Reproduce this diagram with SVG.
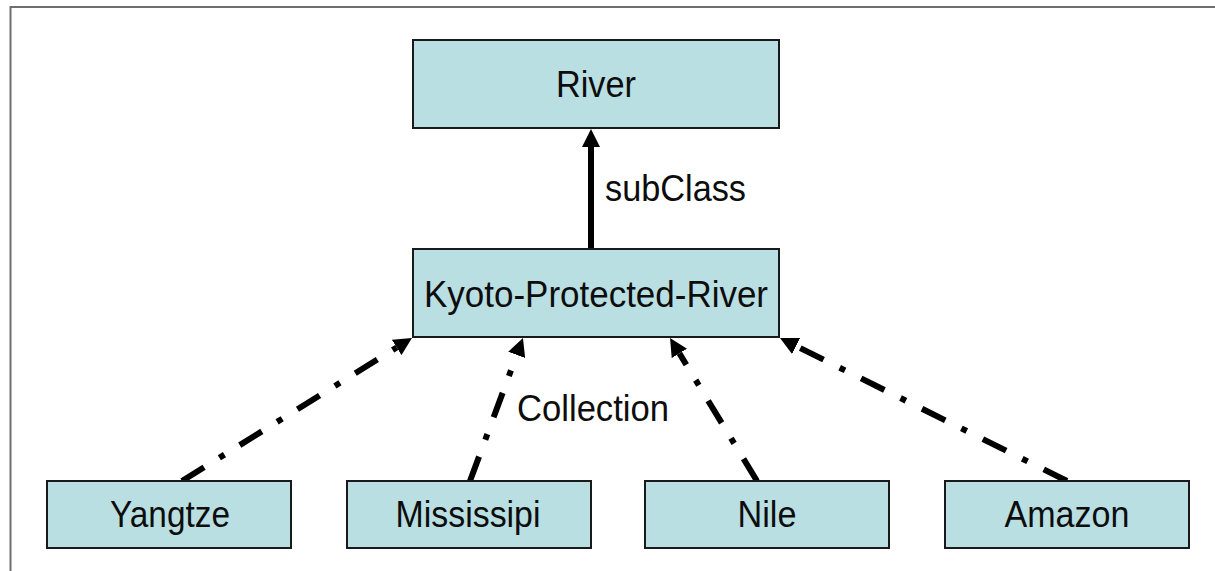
<svg xmlns="http://www.w3.org/2000/svg" width="1215" height="571" viewBox="0 0 1215 571">
<style>
.box{fill:#b9dfe3;stroke:#1a1a1a;stroke-width:2}
.lbl{font-family:"Liberation Sans",Arial,sans-serif;font-size:36px;fill:#0d0d0d;text-anchor:middle}
.elbl{font-family:"Liberation Sans",Arial,sans-serif;font-size:36px;fill:#0d0d0d}
.solid{stroke:#000;stroke-width:6;fill:none}
.dd{stroke:#000;stroke-width:6;fill:none;stroke-dasharray:26 18 6 18}
.frame{stroke:#6e6e6e;stroke-width:2;fill:none}
</style>
<defs>
<marker id="ah" viewBox="0 0 18 18" markerWidth="18" markerHeight="18" markerUnits="userSpaceOnUse" refX="0" refY="9" orient="auto">
<path d="M0,0 L18,9 L0,18 z" fill="#000"/>
</marker>
</defs>
<rect width="1215" height="571" fill="#fff"/>
<path class="frame" d="M10.5,571 L10.5,7 L1215,7"/>
<g id="connectors">
<line class="solid" x1="591" y1="249" x2="591" y2="147" marker-end="url(#ah)"/>
<line class="dd" x1="182" y1="481" x2="396.7" y2="347.5" marker-end="url(#ah)"/>
<line class="dd" x1="470" y1="481" x2="516.7" y2="354.9" marker-end="url(#ah)"/>
<line class="dd" x1="757" y1="481" x2="679.4" y2="353.4" marker-end="url(#ah)"/>
<line class="dd" x1="1067" y1="481" x2="796.1" y2="346" marker-end="url(#ah)"/>
<text class="elbl" x="605" y="201" textLength="141" lengthAdjust="spacingAndGlyphs">subClass</text>
<text class="elbl" x="517" y="421" textLength="152" lengthAdjust="spacingAndGlyphs">Collection</text>
</g>
<g id="river"><rect class="box" x="413" y="40" width="366" height="88"/><text class="lbl" x="596" y="97" textLength="80" lengthAdjust="spacingAndGlyphs">River</text></g>
<g id="kyoto"><rect class="box" x="413" y="249" width="366" height="88"/><text class="lbl" x="596" y="307" textLength="344" lengthAdjust="spacingAndGlyphs">Kyoto-Protected-River</text></g>
<g id="yangtze"><rect class="box" x="47" y="481" width="244" height="67"/><text class="lbl" x="170" y="527" textLength="120" lengthAdjust="spacingAndGlyphs">Yangtze</text></g>
<g id="mississipi"><rect class="box" x="347" y="481" width="244" height="67"/><text class="lbl" x="468" y="527" textLength="145" lengthAdjust="spacingAndGlyphs">Mississipi</text></g>
<g id="nile"><rect class="box" x="645" y="481" width="244" height="67"/><text class="lbl" x="767" y="527" textLength="59" lengthAdjust="spacingAndGlyphs">Nile</text></g>
<g id="amazon"><rect class="box" x="945" y="481" width="244" height="67"/><text class="lbl" x="1067" y="527" textLength="125" lengthAdjust="spacingAndGlyphs">Amazon</text></g>
</svg>
